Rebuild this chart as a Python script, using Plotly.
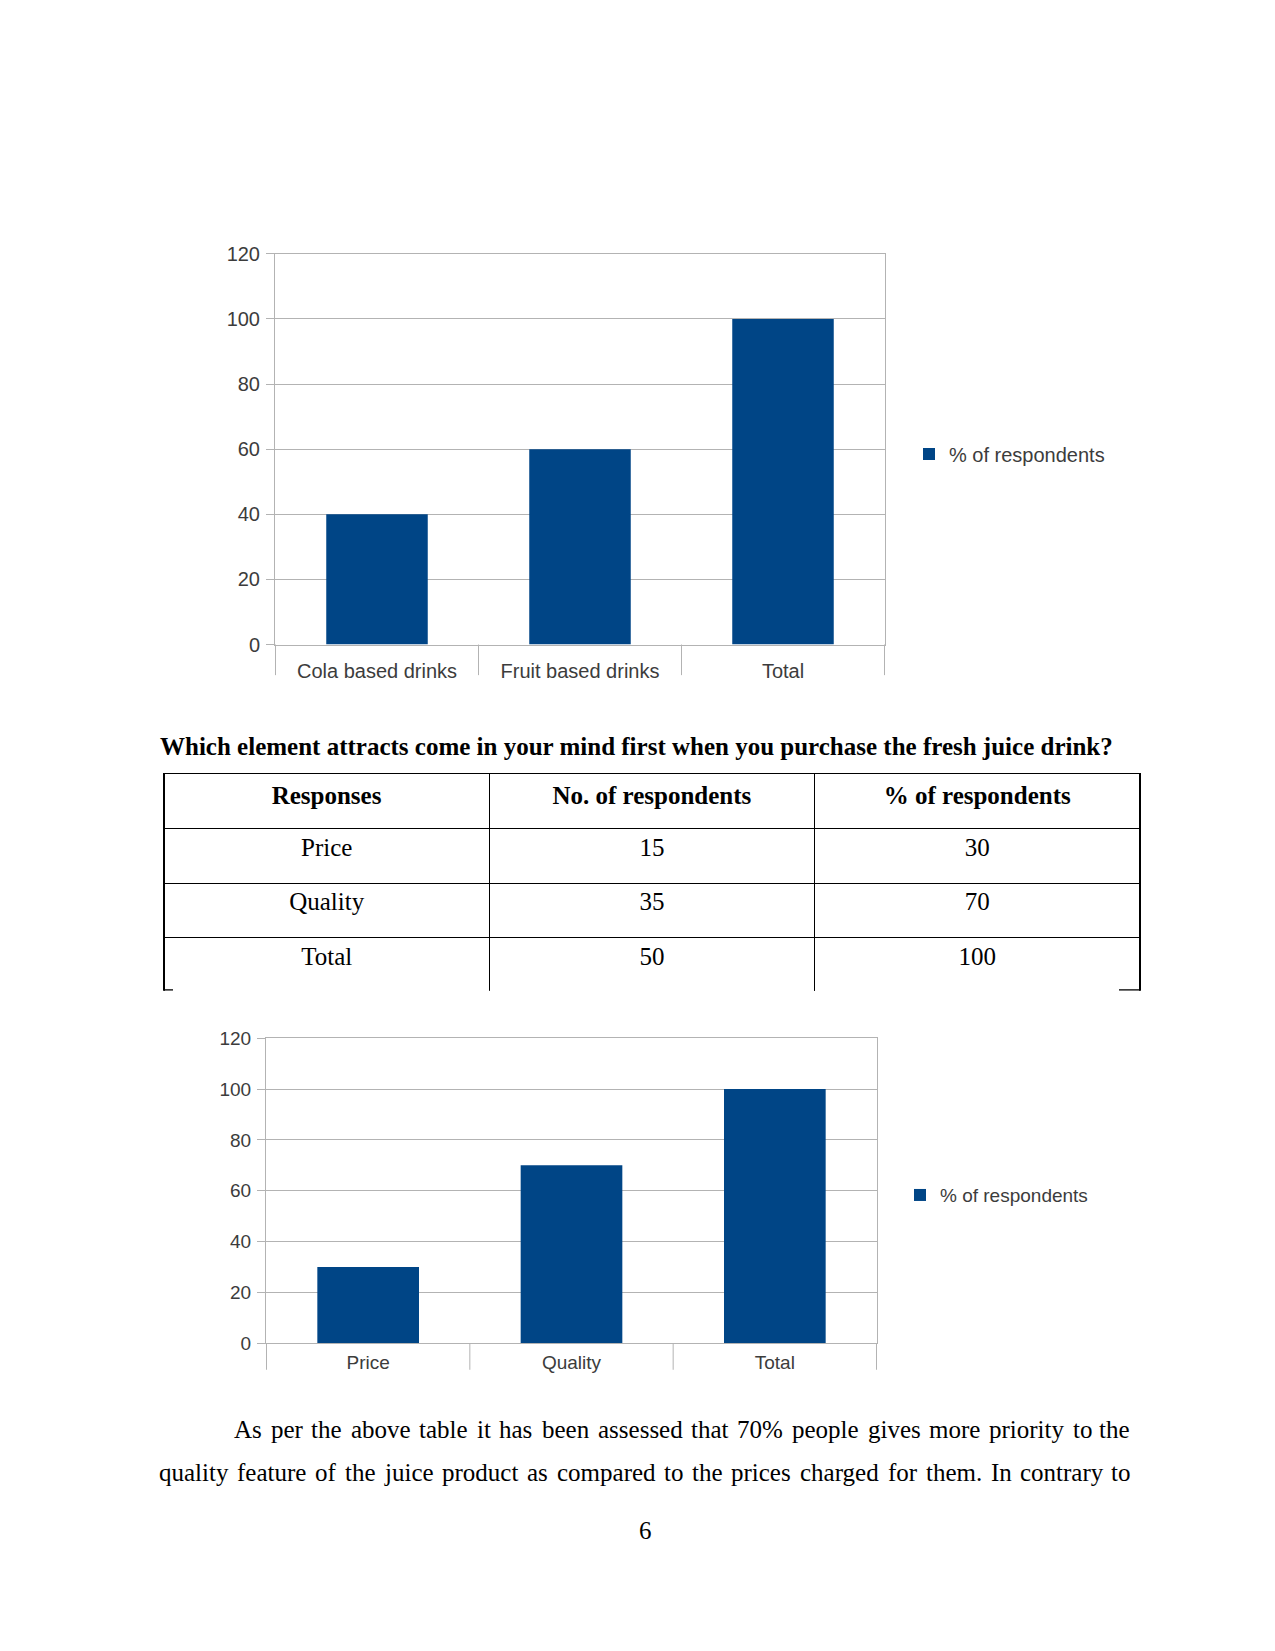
import plotly.graph_objects as go

W, H = 1275, 1651

# ---------------- data ----------------
chart1_categories = ["Cola based drinks", "Fruit based drinks", "Total"]
chart1_values = [40, 60, 100]

chart2_categories = ["Price", "Quality", "Total"]
chart2_values = [30, 70, 100]

series_name = "% of respondents"
y_tick_values = [0, 20, 40, 60, 80, 100, 120]

table_title = "Which element attracts come in your mind first when you purchase the fresh juice drink?"
table_header = ["Responses", "No. of respondents", "% of respondents"]
table_responses = ["Price", "Quality", "Total"]
table_counts = [15, 35, 50]
table_percents = [30, 70, 100]

paragraph_lines = [
    "As per the above table it has been assessed that 70% people gives more priority to the",
    "quality feature of the juice product as compared to the prices charged for them. In contrary to",
]
page_number = "6"

# ---------------- styling ----------------
BLUE = "#004586"
GRID = "#b3b3b3"
TXT = "#3c3c3c"
SANS = "Liberation Sans, Arial, sans-serif"
SERIF = "Liberation Serif, Times New Roman, serif"


def px(x):
    return x / W


def py(y):
    return 1 - y / H


fig = go.Figure()

# ---------------- chart 1 ----------------
fig.add_trace(go.Bar(
    x=chart1_categories, y=chart1_values, name=series_name,
    marker=dict(color=BLUE, line=dict(width=0)),
    xaxis="x", yaxis="y", legend="legend", showlegend=True,
))

# ---------------- chart 2 ----------------
fig.add_trace(go.Bar(
    x=chart2_categories, y=chart2_values, name=series_name,
    marker=dict(color=BLUE, line=dict(width=0)),
    xaxis="x2", yaxis="y2", legend="legend2", showlegend=True,
))

# ---------------- table ----------------
fig.add_trace(go.Table(
    domain=dict(x=[px(156), px(1132)], y=[py(985), py(765)]),
    columnwidth=[1, 1, 1],
    header=dict(
        values=["<b>%s</b>" % h for h in table_header],
        height=55,
        align="center",
        font=dict(family=SERIF, size=25, color="black"),
        line=dict(color="black", width=1.3),
        fill=dict(color="white"),
    ),
    cells=dict(
        values=[table_responses, table_counts, table_percents],
        height=54.5,
        align="center",
        font=dict(family=SERIF, size=25, color="black"),
        line=dict(color="black", width=1.3),
        fill=dict(color="white"),
    ),
))


def xaxis_style(domain, anchor, size, standoff):
    return dict(
        domain=domain, anchor=anchor, type="category",
        showline=True, linecolor=GRID, linewidth=1, mirror=True,
        ticks="", showgrid=False, zeroline=False,
        tickfont=dict(family=SANS, size=size, color=TXT),
        ticklabelstandoff=standoff, fixedrange=True,
    )


def yaxis_style(domain, anchor, size, standoff):
    return dict(
        domain=domain, anchor=anchor, range=[0, 120],
        tickmode="array", tickvals=y_tick_values,
        showgrid=True, gridcolor=GRID, gridwidth=1,
        showline=True, linecolor=GRID, linewidth=1, mirror=True,
        ticks="outside", ticklen=8, tickcolor=GRID, tickwidth=1,
        zeroline=False,
        tickfont=dict(family=SANS, size=size, color=TXT),
        ticklabelstandoff=standoff, fixedrange=True,
    )


fig.update_layout(
    width=W, height=H,
    margin=dict(l=0, r=0, t=0, b=0),
    paper_bgcolor="white", plot_bgcolor="white",
    bargap=0.5,
    xaxis=xaxis_style([px(267), px(877)], "y", 20, 8),
    yaxis=yaxis_style([py(634), py(238)], "x", 20, 2),
    xaxis2=xaxis_style([px(258), px(869)], "y2", 19, 2),
    yaxis2=yaxis_style([py(1342), py(1033)], "x2", 19, 2),
    legend=dict(
        x=px(901), y=py(441), xanchor="left", yanchor="middle",
        font=dict(family=SANS, size=20, color=TXT),
        bgcolor="rgba(0,0,0,0)", itemclick=False, itemdoubleclick=False,
    ),
    legend2=dict(
        x=px(892), y=py(1192), xanchor="left", yanchor="middle",
        font=dict(family=SANS, size=19, color=TXT),
        bgcolor="rgba(0,0,0,0)", itemclick=False, itemdoubleclick=False,
    ),
    showlegend=True,
)

# category divider lines extending below each chart's x axis
shapes = []
for xref, axis_bottom, ext_bottom, n in (
    ("x", 634, 665, len(chart1_categories)),
    ("x2", 1342, 1369, len(chart2_categories)),
):
    for k in range(n + 1):
        shapes.append(dict(
            type="line", xref=xref, yref="paper",
            x0=k - 0.5, x1=k - 0.5, y0=py(axis_bottom), y1=py(ext_bottom),
            line=dict(color=GRID, width=1),
        ))

# small remnants of the table's bottom border at the two corners
shapes.append(dict(type="line", xref="paper", yref="paper",
                   x0=px(156), x1=px(165), y0=py(984), y1=py(984),
                   line=dict(color="black", width=1.3)))
shapes.append(dict(type="line", xref="paper", yref="paper",
                   x0=px(1111), x1=px(1132), y0=py(984), y1=py(984),
                   line=dict(color="black", width=1.3)))
fig.update_layout(shapes=shapes)

# ---------------- page text ----------------
fig.add_annotation(
    text="<b>%s</b>" % table_title, x=px(150), y=py(737),
    xref="paper", yref="paper", xanchor="left", yanchor="middle",
    showarrow=False, font=dict(family=SERIF, size=25, color="black"),
)

TIMES = {
    " ": 250, "%": 833, ".": 250, ",": 250,
    "A": 722, "I": 333,
    "a": 444, "b": 500, "c": 444, "d": 500, "e": 444, "f": 333, "g": 500,
    "h": 500, "i": 278, "j": 278, "k": 500, "l": 278, "m": 778, "n": 500,
    "o": 500, "p": 500, "q": 500, "r": 333, "s": 389, "t": 278, "u": 500,
    "v": 500, "w": 722, "x": 500, "y": 500, "z": 444,
}


def text_width(s, size):
    return sum(TIMES.get(c, 500) for c in s) / 1000.0 * size


def justify(line, x0, x1, y, size):
    words = line.split(" ")
    widths = [text_width(w, size) for w in words]
    gap = (x1 - x0 - sum(widths)) / (len(words) - 1)
    x = x0
    for i, (w, wd) in enumerate(zip(words, widths)):
        last = i == len(words) - 1
        fig.add_annotation(
            text=w, x=px(x1 if last else x), y=py(y),
            xref="paper", yref="paper",
            xanchor="right" if last else "left", yanchor="middle",
            showarrow=False, borderpad=0,
            font=dict(family=SERIF, size=size, color="black"),
        )
        x += wd + gap


justify(paragraph_lines[0], 225, 1123, 1430, 25)
justify(paragraph_lines[1], 150, 1123, 1473, 25)

fig.add_annotation(
    text=page_number, x=px(637), y=py(1532),
    xref="paper", yref="paper", xanchor="center", yanchor="middle",
    showarrow=False, font=dict(family=SERIF, size=25, color="black"),
)

fig.write_html("out.html")
